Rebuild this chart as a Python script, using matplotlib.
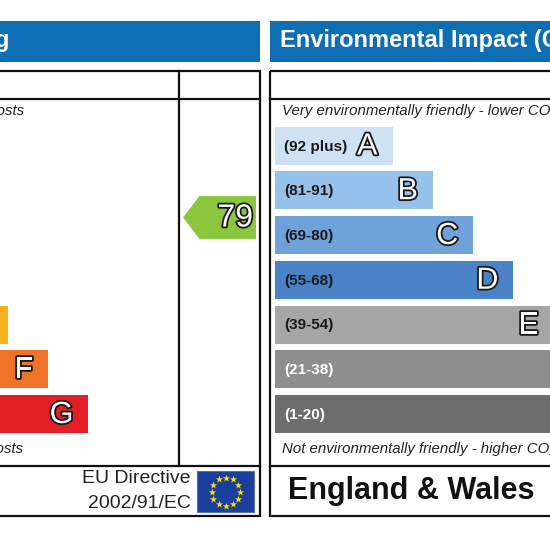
import matplotlib
matplotlib.use('Agg')
import matplotlib.pyplot as plt
from matplotlib.patches import Rectangle, Polygon
import matplotlib.patheffects as pe
import numpy as np

# ---------------- data ----------------
bands = ['A', 'B', 'C', 'D', 'E', 'F', 'G']
band_ranges = ['(92 plus)', '(81-91)', '(69-80)', '(55-68)', '(39-54)', '(21-38)', '(1-20)']
band_low = [92, 81, 69, 55, 39, 21, 1]
band_mid = [96, 86, 74.5, 61.5, 46.5, 29.5, 10.5]
ee_colors = ['#007f3d', '#2c9f29', '#8cc63f', '#ffcc00', '#f9b21b', '#ef7328', '#e31e25']
ei_colors = ['#cfe2f4', '#95c1eb', '#6fa2d8', '#4a82c8', '#a6a6a6', '#8e8e8e', '#6d6d6d']
range_text_colors = ['#1a1a1a', '#1a1a1a', '#1a1a1a', '#1a1a1a', '#1a1a1a', 'white', 'white']
current_ee = 79
ee_title = 'Energy Efficiency Rating'
ei_title = 'Environmental Impact (CO₂) Rating'
ee_top_note = 'Very energy efficient - lower running costs'
ee_bottom_note = 'Not energy efficient - higher running costs'
ei_top_note = 'Very environmentally friendly - lower CO₂ emissions'
ei_bottom_note = 'Not environmentally friendly - higher CO₂ emissions'
region = 'England & Wales'
directive_lines = ['EU Directive', '2002/91/EC']

# ---------------- layout ----------------
FONT = ['Liberation Sans', 'DejaVu Sans']
plt.rcParams['font.family'] = FONT

fig = plt.figure(figsize=(5.5, 5.5), dpi=100)
ax = fig.add_axes([0, 0, 1, 1])
ax.set_xlim(0, 550)
ax.set_ylim(550, 0)
ax.axis('off')

panel_shift = 546
right_x0 = 269.5
left_x0 = right_x0 - panel_shift
panel_w = 260 - left_x0
header_top, header_bot = 21, 61.5
box_top, row_line, bottom_div, box_bot = 71, 98.5, 465.5, 516
col_div = 455  # relative to panel left
bar_top0, bar_step, bar_h = 126.5, 44.75, 38
bar_w0, bar_dw = 118, 40.3
line_kw = dict(color='#111111', lw=1.6)
blue = '#0d6eb3'
outline = [pe.withStroke(linewidth=2.6, foreground='#1a1a1a')]

for x0, colors, title in [(left_x0, ee_colors, ee_title), (right_x0, ei_colors, ei_title)]:
    # header
    ax.add_patch(Rectangle((x0, header_top), panel_w, header_bot - header_top,
                           facecolor=blue, edgecolor='none'))
    # frame
    ax.add_patch(Rectangle((x0, box_top), panel_w, box_bot - box_top,
                           fill=False, edgecolor='#111111', lw=1.6))
    ax.plot([x0, x0 + panel_w], [row_line, row_line], **line_kw)
    ax.plot([x0, x0 + panel_w], [bottom_div, bottom_div], **line_kw)
    ax.plot([x0 + col_div, x0 + col_div], [box_top, bottom_div], **line_kw)
    # bars
    for i, (b, r, c, tc) in enumerate(zip(bands, band_ranges, colors, range_text_colors)):
        top = bar_top0 + i * bar_step
        w = bar_w0 + i * bar_dw
        ax.add_patch(Rectangle((x0 + 5, top), w, bar_h, facecolor=c, edgecolor='none'))
        ax.text(x0 + 15, top + bar_h / 2 + 1, r, fontsize=11, fontweight='bold',
                color=tc if colors is ei_colors else 'white', ha='left', va='center')
        ax.text(x0 + 5 + w - 15, top + bar_h / 2 + 1, b, fontsize=22, color='white',
                ha='right', va='center', path_effects=outline)

# titles
ax.text(9.5, 41, ee_title, fontsize=17, fontweight='bold', color='white', ha='right', va='center')
ax.text(280, 41, ei_title, fontsize=17, fontweight='bold', color='white', ha='left', va='center',
        family=FONT)

# notes
ax.text(24, 111, ee_top_note, fontsize=10.8, style='italic', color='#222222', ha='right', va='center')
ax.text(23, 449, ee_bottom_note, fontsize=10.8, style='italic', color='#222222', ha='right', va='center')
ax.text(282, 111, ei_top_note, fontsize=10.8, style='italic', color='#222222', ha='left', va='center',
        family=FONT)
ax.text(282, 449, ei_bottom_note, fontsize=10.8, style='italic', color='#222222', ha='left', va='center',
        family=FONT)

# current rating arrow (energy efficiency)
band_centers = [bar_top0 + i * bar_step + bar_h / 2 for i in range(len(bands))]
y_c = np.interp(current_ee, band_mid[::-1], band_centers[::-1])
col_l = left_x0 + col_div
col_r = left_x0 + panel_w
ah = 43
ci = next(i for i in range(len(bands)) if current_ee >= band_low[i])
arrow = Polygon([(col_l + 4.5, y_c), (col_l + 21, y_c - ah / 2), (col_r - 4, y_c - ah / 2),
                 (col_r - 4, y_c + ah / 2), (col_l + 21, y_c + ah / 2)],
                closed=True, facecolor=ee_colors[ci], edgecolor='none')
ax.add_patch(arrow)
ax.text(col_r - 7, y_c + 1, str(current_ee), fontsize=23, color='white', ha='right', va='center',
        path_effects=outline)

# footer
ax.text(288, 490.5, region, fontsize=22, fontweight='bold', color='#111111', ha='left', va='center')
for k, line in enumerate(directive_lines):
    ax.text(190.5, 478.5 + k * 24.5, line, fontsize=14, color='#222222', ha='right', va='center')

# EU flag
fx0, fy0, fw, fh = 197, 471, 57, 41
ax.add_patch(Rectangle((fx0, fy0), fw, fh, facecolor='#1a3f9a', edgecolor='#5a6fb0', lw=0.8))
ang = np.linspace(0, 2 * np.pi, 12, endpoint=False)
ax.scatter(fx0 + fw / 2 + 14 * np.cos(ang), fy0 + fh / 2 + 14 * np.sin(ang), marker='*',
           s=30, color='#ffe000', linewidths=0, zorder=5)

fig.savefig('out.png', dpi=100)
